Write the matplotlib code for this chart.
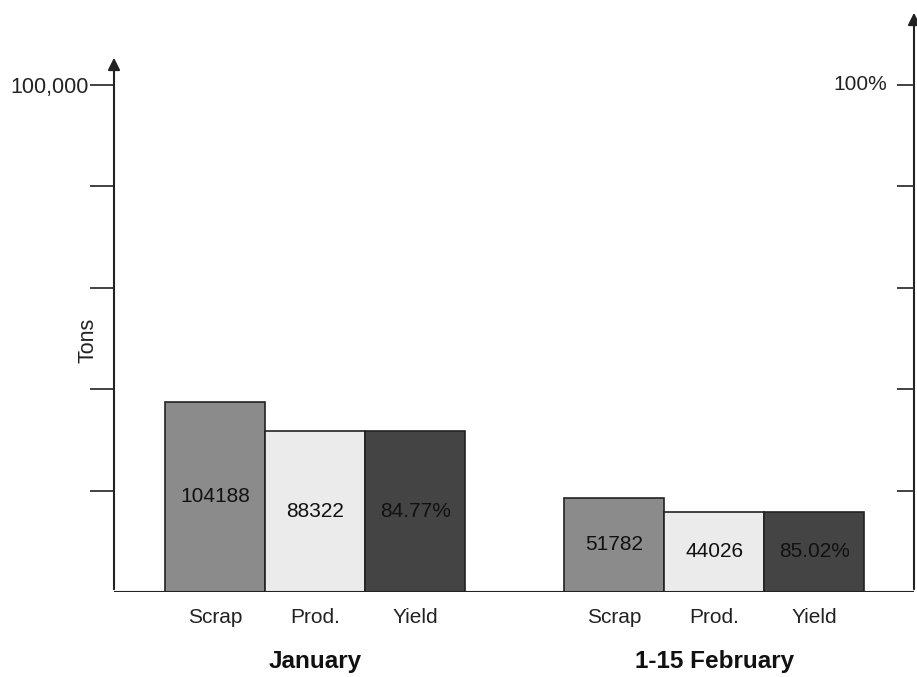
import matplotlib.pyplot as plt
import numpy as np

plt.rcParams['font.family'] = ['Liberation Sans', 'DejaVu Sans']

# tonnage per period and the resulting yield (prod / scrap)
periods = ['January', '1-15 February']
measures = ['Scrap', 'Prod.', 'Yield']
scrap = [104188, 51782]
prod = [88322, 44026]
yield_pct = [84.77, 85.02]

colors = ['#8b8b8b', '#ebebeb', '#444444']

fig = plt.figure(figsize=(9.17, 6.77), dpi=100)
ax = fig.add_axes([114/917, 1 - 592/677, 800/917, 582/677])

ton_step = 55600          # one division on the tons axis
ymax = ton_step*5*582/507
ax.set_xlim(-0.504, 1.501)
ax.set_ylim(0, ymax)

width = 0.2506
x = np.arange(len(periods))
heights = [scrap, prod, [y/100*s for y, s in zip(yield_pct, scrap)]]
labels = [[f'{v}' for v in scrap], [f'{v}' for v in prod],
          [f'{v:.2f}%' for v in yield_pct]]

for i in range(3):
    pos = x + (i - 1)*width
    ax.bar(pos, heights[i], width, color=colors[i], edgecolor='#222222', linewidth=1.2)
    for p, h, t in zip(pos, heights[i], labels[i]):
        ax.text(p, h/2, t, ha='center', va='center', fontsize=15, color='#111111')
    for p in pos:
        ax.text(p, -0.043, measures[i], transform=ax.get_xaxis_transform(),
                ha='center', va='center', fontsize=15, color='#222222')

for xi, name in zip(x, periods):
    ax.text(xi, -0.119, name, transform=ax.get_xaxis_transform(),
            ha='center', va='center', fontsize=17.5, fontweight='bold', color='#111111')

# axis lines with arrow heads
for s in ax.spines.values():
    s.set_visible(False)
ax.axhline(0, color='#222222', lw=1.5)
ax.annotate('', xy=(0, 537/582), xytext=(0, 0), xycoords='axes fraction',
            arrowprops=dict(arrowstyle='-|>', color='#222222', lw=1.5, mutation_scale=18))
ax.annotate('', xy=(1, 1.0), xytext=(1, 0), xycoords='axes fraction',
            arrowprops=dict(arrowstyle='-|>', color='#222222', lw=1.5, mutation_scale=18))

ax.set_xticks([])
ax.set_yticks(np.arange(1, 6)*ton_step)
ax.set_yticklabels(['', '', '', '', '100,000'], fontsize=15.5, color='#222222')
ax.tick_params(axis='y', direction='out', length=17, width=1.3, color='#333333', pad=1)

ax2 = ax.twinx()
for s in ax2.spines.values():
    s.set_visible(False)
ax2.set_ylim(0, 100*582/507)
ax2.set_yticks([20, 40, 60, 80, 100])
ax2.set_yticklabels([])
ax2.tick_params(axis='y', direction='in', length=12, width=1.3, color='#333333')
ax2.text(0.966, 100, '100%', transform=ax2.get_yaxis_transform(),
         ha='right', va='center', fontsize=15, color='#222222')

fig.text(88/917, 1 - 340/677, 'Tons', rotation=90, ha='center', va='center',
         fontsize=15.5, color='#222222')

fig.savefig('out.png', dpi=100)
